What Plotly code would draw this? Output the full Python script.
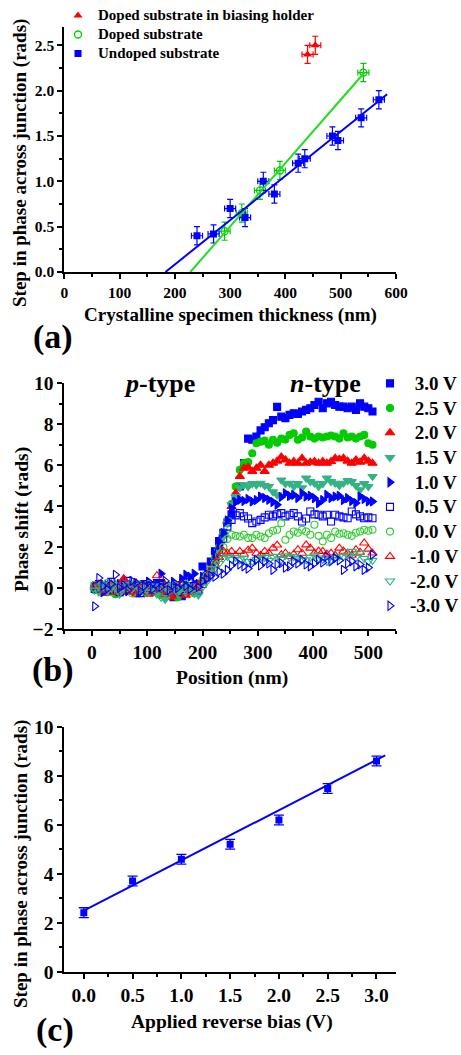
import plotly.graph_objects as go

# ---------------- Panel (a) data ----------------
undoped_x = [240, 270, 300, 327, 360, 380, 423, 435, 485, 495, 537, 569]
undoped_y = [0.40, 0.42, 0.70, 0.60, 1.00, 0.86, 1.20, 1.25, 1.50, 1.45, 1.70, 1.90]
doped_x = [290, 321, 354, 390, 541]
doped_y = [0.45, 0.65, 0.90, 1.12, 2.20]
holder_x = [440, 454]
holder_y = [2.40, 2.50]
err_thick = 10
err_phase_a = 0.1
undoped_fit_x = [183, 584]
undoped_fit_y = [0.0, 1.96]
doped_fit_x = [228, 543]
doped_fit_y = [0.0, 2.20]
legend_a_labels = ["Doped substrate in biasing holder", "Doped substrate", "Undoped substrate"]

# ---------------- Panel (b) data ----------------
positions = [5, 12.5, 20, 27.5, 35, 42.5, 50, 57.5, 65, 72.5, 80, 87.5, 95, 102.5,
             110, 117.5, 125, 132.5, 140, 147.5, 155, 162.5, 170, 177.5, 185, 192.5,
             200, 207.5, 215, 222.5, 230, 237.5, 245, 252.5, 260, 267.5, 275, 282.5,
             290, 297.5, 305, 312.5, 320, 327.5, 335, 342.5, 350, 357.5, 365, 372.5,
             380, 387.5, 395, 402.5, 410, 417.5, 425, 432.5, 440, 447.5, 455, 462.5,
             470, 477.5, 485, 492.5, 500, 507.5]

bias_labels = ["\u20083.0 V", "\u20082.5 V", "\u20082.0 V", "\u20081.5 V", "\u20081.0 V",
               "\u20080.5 V", "\u20080.0 V", "-1.0 V", "-2.0 V", "-3.0 V"]

# baseline part (x = 5 ... 200) and junction/plateau part (x = 207.5 ... 507.5)
base_p30 = [0.08, 0.05, -0.05, 0.10, 0.00, -0.15, -0.20, 0.05, -0.10, 0.15, -0.25, 0.00, 0.20, -0.05,
            0.10, -0.10, 0.25, 0.05, -0.30, -0.45, -0.35, -0.40, -0.20, 0.10, -0.10, 0.20, 1.05]
step_p30 = [0.60, 1.30, 1.80, 2.30, 2.70, 3.20, 3.60, 4.40, 4.96, 6.10, 7.30,
            7.24, 7.40, 7.70, 7.85, 8.05, 8.20, 8.85, 8.37, 8.30, 8.46, 8.54, 8.50, 8.62, 8.70,
            8.78, 8.94, 9.10, 8.78, 9.02, 9.10, 8.94, 8.86, 8.86, 8.78, 8.86, 8.70, 9.02, 8.86,
            8.78, 8.62]
base_p25 = [-0.10, 0.15, 0.05, -0.20, 0.10, -0.30, 0.00, -0.15, 0.20, -0.05, -0.25, 0.10, -0.10, 0.15,
            -0.20, 0.05, -0.35, 0.00, -0.30, 0.10, -0.45, -0.20, -0.10, 0.05, -0.25, 0.15, 0.30]
step_p25 = [0.55, 0.95, 1.45, 2.00, 2.70, 3.30, 4.10, 4.96, 5.77, 6.10, 6.15,
            6.58, 7.07, 7.15, 7.20, 7.00, 7.24, 7.10, 7.30, 7.25, 7.48, 7.56, 7.24, 7.35, 7.64,
            7.40, 7.30, 7.40, 7.35, 7.40, 7.45, 7.40, 7.30, 7.56, 7.35, 7.40, 7.30, 7.40, 7.48,
            7.07, 7.00]
base_p20 = [0.10, -0.15, 0.05, -0.25, 0.20, -0.10, 0.00, 0.45, -0.20, 0.05, -0.30, 0.15, -0.05, -0.30,
            0.10, -0.20, 0.05, -0.35, -0.45, -0.40, 0.10, -0.30, -0.35, -0.15, 0.05, -0.05, 0.35]
step_p20 = [0.50, 0.90, 1.30, 1.95, 2.60, 3.25, 3.98, 4.63, 5.45, 5.85, 5.90,
            5.70, 5.85, 6.00, 5.70, 6.00, 6.10, 6.20, 6.40, 6.26, 6.10, 6.18, 6.10, 6.34, 6.10,
            6.15, 6.18, 6.10, 6.18, 6.10, 6.18, 6.34, 6.30, 6.34, 6.20, 6.10, 6.26, 6.15, 6.34,
            6.20, 6.10]
base_p15 = [0.05, -0.20, 0.15, 0.00, -0.15, 0.25, -0.30, 0.10, -0.05, 0.20, -0.15, 0.00, -0.25, 0.10,
            -0.10, -0.30, 0.15, -0.55, -0.20, 0.05, -0.30, 0.00, -0.20, 0.10, -0.25, -0.30, 0.25]
step_p15 = [0.45, 0.85, 1.25, 1.80, 2.50, 3.15, 4.07, 4.47, 4.90, 5.04, 4.95,
            5.10, 5.04, 5.12, 5.00, 4.96, 4.70, 4.55, 5.28, 5.10, 5.12, 4.96, 5.10, 4.90, 5.37,
            5.20, 5.12, 4.96, 5.10, 5.37, 5.20, 5.12, 5.00, 5.12, 5.25, 5.20, 5.00, 4.80, 5.10,
            4.96, 5.45]
base_p10 = [0.10, 0.00, -0.20, 0.15, 0.05, -0.10, 0.20, 0.00, -0.15, 0.10, 0.05, -0.20, 0.15, 0.30,
            0.10, 0.20, 0.70, 0.05, -0.15, 0.30, 0.10, 0.45, 0.65, 0.55, 0.70, 0.20, 0.55]
step_p10 = [0.70, 1.10, 1.50, 2.10, 2.68, 3.30, 3.90, 4.20, 4.31, 4.25, 4.35,
            4.23, 4.30, 4.47, 4.40, 4.31, 4.20, 4.07, 4.45, 4.63, 4.50, 4.55, 4.40, 4.63, 4.47,
            4.50, 4.39, 4.15, 4.30, 4.55, 4.40, 4.47, 4.50, 4.30, 4.39, 4.25, 4.15, 4.47, 4.35,
            4.23, 4.23]
base_p05 = [-0.05, 0.20, 0.10, -0.10, 0.30, 0.00, -0.20, 0.15, 0.35, -0.05, 0.10, -0.25, 0.20, 0.00,
            -0.10, 0.25, 0.05, -0.15, 0.10, 0.00, -0.20, 0.15, -0.05, 0.30, 0.10, -0.10, 0.20]
step_p05 = [0.50, 0.80, 1.20, 1.75, 2.40, 3.00, 3.33, 3.55, 3.66, 3.50, 3.40,
            3.17, 3.25, 3.33, 3.45, 3.58, 3.50, 3.60, 3.66, 3.50, 3.58, 3.66, 3.50, 3.25, 3.40,
            3.74, 3.60, 3.58, 3.50, 3.58, 3.25, 3.58, 3.50, 3.45, 3.41, 3.74, 3.60, 3.50, 3.41,
            3.45, 3.41]
base_z00 = [0.15, -0.10, 0.05, 0.25, -0.20, 0.10, -0.05, 0.20, 0.00, -0.25, 0.15, 0.05, -0.15, 0.20,
            0.00, -0.10, 0.10, -0.20, 0.05, 0.15, -0.10, 0.00, 0.20, -0.15, 0.05, 0.10, 0.40]
step_z00 = [0.60, 0.90, 1.20, 1.60, 2.00, 2.40, 2.60, 2.55, 2.52, 2.60, 2.45,
            2.44, 2.60, 2.52, 2.45, 2.68, 2.80, 2.85, 3.17, 2.36, 2.60, 2.76, 2.70, 2.85, 2.76,
            2.60, 3.09, 2.55, 2.28, 2.60, 2.45, 2.76, 2.65, 2.68, 2.60, 2.55, 2.70, 2.76, 2.85,
            2.80, 2.85]
base_n10 = [0.05, 0.20, -0.10, 0.00, 0.15, -0.20, 0.10, 0.45, 0.00, -0.15, 0.25, -0.05, 0.10, -0.20,
            0.05, 0.60, -0.10, 0.15, 0.00, -0.25, 0.10, 0.20, -0.05, -0.20, 0.05, 0.15, 0.30]
step_n10 = [0.55, 0.85, 1.15, 1.50, 1.80, 1.70, 1.79, 1.60, 1.79, 1.65, 1.85,
            1.95, 1.70, 1.60, 1.79, 1.70, 1.95, 2.10, 1.63, 1.70, 1.54, 1.65, 1.87, 1.70, 2.11,
            1.95, 1.71, 1.80, 1.79, 1.65, 1.71, 1.60, 1.95, 1.80, 1.71, 1.60, 1.87, 1.75, 2.20,
            1.90, 1.71]
base_n20 = [-0.10, 0.05, 0.20, -0.15, 0.00, 0.10, -0.25, 0.05, 0.15, -0.05, 0.25, -0.10, 0.00, -0.20,
            0.10, -0.15, -0.45, 0.05, -0.10, 0.15, -0.20, 0.00, -0.10, 0.05, -0.25, -0.35, 0.05]
step_n20 = [0.30, 0.60, 0.95, 1.20, 1.45, 1.54, 1.40, 1.50, 1.38, 1.45, 1.30,
            1.30, 1.40, 1.46, 1.50, 1.35, 1.55, 1.54, 1.40, 1.60, 1.50, 1.54, 1.45, 1.38, 1.38,
            1.50, 1.60, 1.46, 1.40, 1.30, 1.38, 1.50, 1.55, 1.54, 1.60, 1.79, 1.50, 1.71, 1.45,
            1.30, 1.35]
base_n30 = [-0.89, 0.49, 0.10, -0.05, 0.20, 0.65, 0.00, 0.15, -0.10, 0.35, 0.25, -0.15, 0.10, 0.30,
            -0.05, 0.20, 0.05, 0.35, -0.10, 0.15, 0.00, 0.25, 0.10, -0.05, 0.20, 0.05, 0.35]
step_n30 = [0.45, 0.60, 0.55, 0.80, 0.70, 0.89, 1.10, 1.30, 1.15, 1.06, 0.95,
            1.20, 1.38, 1.10, 1.30, 1.20, 0.89, 1.15, 1.22, 1.00, 1.06, 1.30, 1.20, 1.38, 1.15,
            1.06, 1.20, 1.38, 1.25, 1.54, 1.30, 1.46, 1.35, 0.89, 1.20, 1.30, 1.06, 1.15, 0.89,
            1.00, 1.63]

# ---------------- Panel (c) data ----------------
bias_v = [0.0, 0.5, 1.0, 1.5, 2.0, 2.5, 3.0]
step_phase = [2.41, 3.70, 4.59, 5.20, 6.19, 7.48, 8.60]
step_err = [0.2, 0.2, 0.2, 0.2, 0.2, 0.2, 0.2]
bias_fit_x = [0.0, 3.09]
bias_fit_y = [2.49, 8.83]

# ---------------- styling ----------------
W, H = 461, 1055
FONT = "Liberation Serif, Times New Roman, serif"
BLUE = "#0000ff"
GREEN = "#00cc00"
LGREEN = "#33cc33"
RED = "#ff0000"
TEAL = "#33b383"


def px(x):
    return x / W


def py(y):
    return 1 - y / H


def big(text, size):
    return '<span style="font-size:%gpx">%s</span>' % (size, text)


fig = go.Figure()

# ---- panel (a)
eb_style = dict(thickness=1.2, width=3)
fig.add_trace(go.Scatter(x=holder_x, y=holder_y, mode="markers", name=big(legend_a_labels[0], 15),
                         marker=dict(symbol="triangle-up", size=8, color=RED),
                         error_x=dict(type="constant", value=err_thick, color=RED, **eb_style),
                         error_y=dict(type="constant", value=err_phase_a, color=RED, **eb_style),
                         xaxis="x", yaxis="y", legend="legend"))
fig.add_trace(go.Scatter(x=doped_x, y=doped_y, mode="markers", name=big(legend_a_labels[1], 15),
                         marker=dict(symbol="circle-open", size=7, color=GREEN, line=dict(width=1.3)),
                         error_x=dict(type="constant", value=err_thick, color=GREEN, **eb_style),
                         error_y=dict(type="constant", value=err_phase_a, color=GREEN, **eb_style),
                         xaxis="x", yaxis="y", legend="legend"))
fig.add_trace(go.Scatter(x=undoped_x, y=undoped_y, mode="markers", name=big(legend_a_labels[2], 15),
                         marker=dict(symbol="square", size=7, color=BLUE),
                         error_x=dict(type="constant", value=err_thick, color=BLUE, **eb_style),
                         error_y=dict(type="constant", value=err_phase_a, color=BLUE, **eb_style),
                         xaxis="x", yaxis="y", legend="legend"))
fig.add_trace(go.Scatter(x=doped_fit_x, y=doped_fit_y, mode="lines", line=dict(color="#22dd22", width=2),
                         showlegend=False, xaxis="x", yaxis="y"))
fig.add_trace(go.Scatter(x=undoped_fit_x, y=undoped_fit_y, mode="lines", line=dict(color=BLUE, width=2),
                         showlegend=False, xaxis="x", yaxis="y"))

# ---- panel (b)
series_b = [
    (base_p30, step_p30, "square", BLUE, 7),
    (base_p25, step_p25, "circle", GREEN, 7),
    (base_p20, step_p20, "triangle-up", RED, 8),
    (base_p15, step_p15, "triangle-down", TEAL, 8),
    (base_p10, step_p10, "triangle-right", BLUE, 8),
    (base_p05, step_p05, "square-open", BLUE, 7),
    (base_z00, step_z00, "circle-open", LGREEN, 7),
    (base_n10, step_n10, "triangle-up-open", RED, 8),
    (base_n20, step_n20, "triangle-down-open", TEAL, 8),
    (base_n30, step_n30, "triangle-right-open", BLUE, 8),
]
for (base, step, sym, col, size), lab in zip(series_b, bias_labels):
    fig.add_trace(go.Scatter(x=positions, y=base + step, mode="markers", name=big(lab, 19),
                             marker=dict(symbol=sym, size=size, color=col, line=dict(width=1.1, color=col)),
                             xaxis="x2", yaxis="y2", legend="legend2"))

# ---- panel (c)
fig.add_trace(go.Scatter(x=bias_fit_x, y=bias_fit_y, mode="lines", line=dict(color=BLUE, width=2),
                         showlegend=False, xaxis="x3", yaxis="y3"))
fig.add_trace(go.Scatter(x=bias_v, y=step_phase, mode="markers",
                         marker=dict(symbol="square", size=7, color=BLUE),
                         error_y=dict(type="data", array=step_err, color=BLUE, thickness=1.3, width=5),
                         showlegend=False, xaxis="x3", yaxis="y3"))

XDOM = [px(64.3), px(396)]


def axis(rng, dtick, mdtick, tsize, dom, anchor, fmt=None):
    d = dict(range=rng, domain=dom, anchor=anchor, showline=True, linewidth=2, linecolor="black",
             ticks="outside", ticklen=5, tickwidth=2, tickcolor="black", dtick=dtick, tick0=0,
             showgrid=False, zeroline=False, automargin=False,
             tickfont=dict(family=FONT, size=tsize, color="black", weight="bold"),
             minor=dict(ticks="outside", ticklen=3, tickwidth=1.5, tickcolor="black", dtick=mdtick,
                        showgrid=False))
    if fmt:
        d["tickformat"] = fmt
    return d


fig.update_layout(
    width=W, height=H, margin=dict(l=0, r=0, t=0, b=0, pad=0, autoexpand=False),
    paper_bgcolor="white", plot_bgcolor="white",
    showlegend=True,
    xaxis=axis([0, 600], 100, 50, 15.5, XDOM, "y"),
    yaxis=axis([0, 2.7], 0.5, 0.25, 15.5, [py(272), py(27.2)], "x", ".1f"),
    xaxis2=axis([-50, 550], 100, 50, 19.5, XDOM, "y2"),
    yaxis2=axis([-2, 10], 2, 1, 19.5, [py(629), py(383.3)], "x2"),
    xaxis3=axis([-0.2, 3.2], 0.5, 0.25, 19.5, XDOM, "y3", ".1f"),
    yaxis3=axis([0, 10], 2, 1, 19.5, [py(971.7), py(726.7)], "x3"),
    legend=dict(x=px(58), y=py(1), xanchor="left", yanchor="top", bgcolor="rgba(0,0,0,0)",
                font=dict(family=FONT, size=12.15, color="black", weight="bold"),
                itemsizing="trace", tracegroupgap=0),
    legend2=dict(x=px(370), y=py(366), xanchor="left", yanchor="top", bgcolor="rgba(0,0,0,0)",
                 font=dict(family=FONT, size=16.7, color="black", weight="bold"),
                 itemsizing="trace", tracegroupgap=0),
)


def ann(text, x, y, size, angle=0):
    fig.add_annotation(text=text, x=px(x), y=py(y), xref="paper", yref="paper", showarrow=False,
                       xanchor="center", yanchor="middle", textangle=angle,
                       font=dict(family=FONT, size=size, color="black", weight="bold"))


ann("Crystalline specimen thickness (nm)", 230, 315, 19)
ann("Step in phase across junction (rads)", 20, 163, 19, -90)
ann("Position (nm)", 232, 678, 19.5)
ann("Phase shift (rads)", 22, 520, 19.5, -90)
ann("Applied reverse bias (V)", 232, 1022, 19.5)
ann("Step in phase across junction (rads)", 21, 864, 19, -90)
ann("<i>p</i>-type", 159, 383, 26)
ann("<i>n</i>-type", 325, 383, 26)
ann("(a)", 53, 337, 34)
ann("(b)", 53, 670, 34)
ann("(c)", 55, 1030, 34)

print([len(b) + len(s) for b, s, *_ in series_b], len(positions))
fig.write_html("out.html")
